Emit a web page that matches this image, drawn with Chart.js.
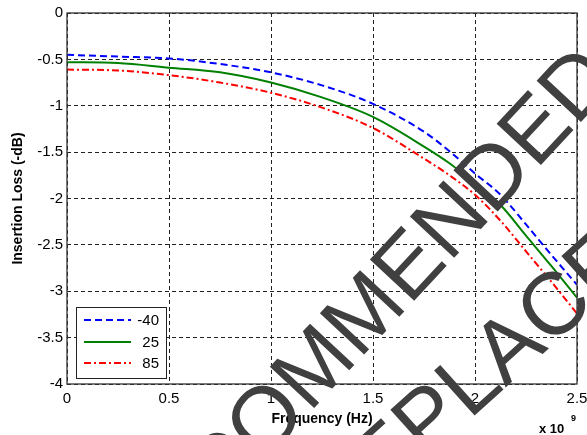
<!DOCTYPE html>
<html>
<head>
<meta charset="utf-8">
<script src="https://cdn.jsdelivr.net/npm/chart.js@4/dist/chart.umd.min.js"></script>
<style>
  html, body { margin: 0; padding: 0; background: #fff; }
  #wrap { width: 587px; height: 435px; }
</style>
</head>
<body>
<div id="wrap"><canvas id="lossChart" width="587" height="435"></canvas></div>
<script>
// frequency points (Hz)
const freqHz = [0, 0.25e9, 0.5e9, 0.75e9, 1.0e9, 1.25e9, 1.5e9, 1.75e9, 1.875e9, 2.0e9, 2.125e9, 2.25e9, 2.375e9, 2.5e9];
// insertion loss per temperature
const lossM40 = [-0.45, -0.47, -0.49, -0.55, -0.64, -0.78, -0.98, -1.28, -1.49, -1.73, -1.96, -2.28, -2.61, -2.93];
const loss25 = [-0.53, -0.54, -0.59, -0.64, -0.75, -0.91, -1.12, -1.44, -1.62, -1.84, -2.07, -2.40, -2.73, -3.07];
const loss85 = [-0.61, -0.62, -0.67, -0.75, -0.86, -1.02, -1.24, -1.57, -1.75, -1.96, -2.24, -2.57, -2.90, -3.24];
const seriesLabels = ['-40', '25', '85'];
const xTicks = [0, 0.5e9, 1.0e9, 1.5e9, 2.0e9, 2.5e9];
const yTicks = [0, -0.5, -1, -1.5, -2, -2.5, -3, -3.5, -4];
const xTitle = 'Frequency (Hz)';
const yTitle = 'Insertion Loss (-dB)';
const watermark = ['NO RECOMMENDED', 'REPLACEMENT'];

const FONT = '"Liberation Sans", Arial, sans-serif';

function pts(ys) {
  return ys.map((y, i) => ({ x: freqHz[i], y: y }));
}

const styles = [
  { color: '#0000ff', dash: [7, 4] },
  { color: '#008000', dash: [] },
  { color: '#ff0000', dash: [7, 3, 2, 3] }
];

// draw a rotated line of text so that the middle of a chosen letter span sits on (cx, cy)
function stampLine(ctx, text, from, to, cx, cy, ang, capMid) {
  const m = s => ctx.measureText(s).width;
  const a = m(text.slice(0, from)) + m(text[from]) / 2;
  const b = m(text.slice(0, to)) + m(text[to]) / 2;
  ctx.save();
  ctx.translate(cx, cy);
  ctx.rotate(ang);
  ctx.fillText(text, -(a + b) / 2, capMid);
  ctx.restore();
}

const extras = {
  id: 'extras',
  afterDatasetsDraw(chart) {
    const ctx = chart.ctx;
    const a = chart.chartArea;
    // plot frame
    ctx.save();
    ctx.strokeStyle = '#333';
    ctx.lineWidth = 1.3;
    ctx.setLineDash([]);
    ctx.strokeRect(a.left, a.top, a.right - a.left, a.bottom - a.top);
    ctx.restore();

    // legend box
    const bx = 76, by = 307, bw = 90, bh = 71;
    ctx.save();
    ctx.fillStyle = '#fff';
    ctx.fillRect(bx, by, bw, bh);
    ctx.strokeStyle = '#222';
    ctx.lineWidth = 1;
    ctx.strokeRect(bx + 0.5, by + 0.5, bw, bh);
    const rows = [320, 342, 363];
    chart.data.datasets.forEach((ds, i) => {
      ctx.beginPath();
      ctx.strokeStyle = ds.borderColor;
      ctx.lineWidth = 2;
      ctx.setLineDash(ds.borderDash || []);
      ctx.moveTo(84, rows[i]);
      ctx.lineTo(131, rows[i]);
      ctx.stroke();
      ctx.setLineDash([]);
      ctx.fillStyle = '#000';
      ctx.font = '15px ' + FONT;
      ctx.textAlign = 'right';
      ctx.textBaseline = 'middle';
      ctx.fillText(ds.label, 159, rows[i] + 1);
    });
    ctx.restore();

    // axis titles
    ctx.save();
    ctx.fillStyle = '#000';
    ctx.font = 'bold 14px ' + FONT;
    ctx.textAlign = 'center';
    ctx.textBaseline = 'middle';
    ctx.fillText(xTitle, (a.left + a.right) / 2, 419);
    ctx.translate(18, (a.top + a.bottom) / 2);
    ctx.rotate(-Math.PI / 2);
    ctx.fillText(yTitle, 0, 0);
    ctx.restore();

    // x 10^9 exponent
    ctx.save();
    ctx.fillStyle = '#000';
    ctx.font = 'bold 13px ' + FONT;
    ctx.textAlign = 'left';
    ctx.textBaseline = 'alphabetic';
    ctx.fillText('x 10', 539, 433);
    ctx.font = 'bold 9px ' + FONT;
    ctx.fillText('9', 571, 421);
    ctx.restore();
  },
  afterDraw(chart) {
    const ctx = chart.ctx;
    ctx.save();
    ctx.fillStyle = '#404040';
    const size = 88;
    ctx.font = size + 'px ' + FONT;
    ctx.textBaseline = 'alphabetic';
    ctx.textAlign = 'left';
    const capMid = 0.716 * size / 2;
    // "O ... E" of RECOMMENDED
    stampLine(ctx, watermark[0], 6, 12, 398, 272, -47 * Math.PI / 180, capMid);
    // "P ... C" of REPLACEMENT
    stampLine(ctx, watermark[1], 2, 5, 489, 360, -42 * Math.PI / 180, capMid);
    ctx.restore();
  }
};

new Chart(document.getElementById('lossChart').getContext('2d'), {
  type: 'line',
  data: {
    datasets: [lossM40, loss25, loss85].map((ys, i) => ({
      label: seriesLabels[i],
      data: pts(ys),
      borderColor: styles[i].color,
      borderDash: styles[i].dash,
      borderWidth: 2,
      pointRadius: 0,
      fill: false,
      cubicInterpolationMode: 'monotone'
    }))
  },
  options: {
    responsive: false,
    animation: false,
    layout: { padding: { left: 0, right: 0, top: 10, bottom: 0 } },
    plugins: { legend: { display: false }, tooltip: { enabled: false } },
    scales: {
      x: {
        type: 'linear',
        min: 0,
        max: 2.5e9,
        afterFit(s) { s.height = 51; s.paddingRight = 10; },
        afterBuildTicks(s) { s.ticks = xTicks.map(v => ({ value: v })); },
        ticks: {
          color: '#000',
          font: { family: FONT, size: 15 },
          padding: 6,
          maxRotation: 0,
          callback: v => String(v / 1e9)
        },
        grid: { color: '#222', lineWidth: 1, drawTicks: false },
        border: { display: false, dash: [4, 3] }
      },
      y: {
        type: 'linear',
        min: -4,
        max: 0,
        afterFit(s) { s.width = 67; },
        afterBuildTicks(s) { s.ticks = yTicks.map(v => ({ value: v })); },
        ticks: {
          color: '#000',
          font: { family: FONT, size: 15 },
          padding: 4,
          callback: v => String(v)
        },
        grid: { color: '#222', lineWidth: 1, drawTicks: false },
        border: { display: false, dash: [4, 3] }
      }
    }
  },
  plugins: [extras]
});
</script>
</body>
</html>
